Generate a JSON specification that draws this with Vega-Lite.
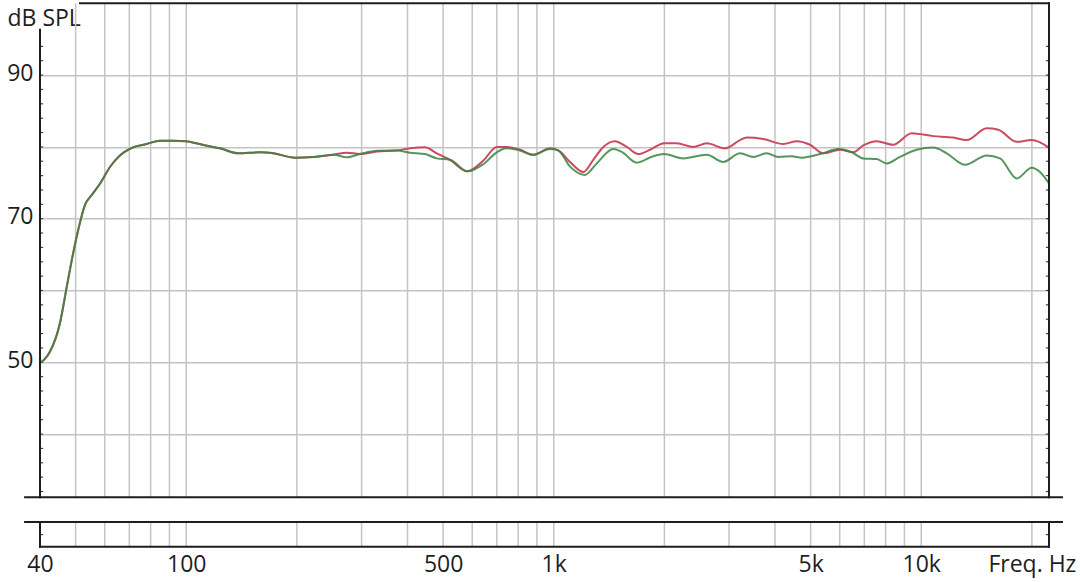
{
  "$schema": "https://vega.github.io/schema/vega-lite/v6.json",
  "width": 1009,
  "height": 543.5,
  "autosize": {"type": "none"},
  "padding": {"left": 40, "top": 3.3, "right": 31, "bottom": 35.2},
  "background": "white",
  "config": {"view": {"stroke": null}, "font": "Open Sans"},
  "datasets": {
    "one": [{"k": 1}],
    "grid": [
      {"f": 50}, {"f": 60}, {"f": 70}, {"f": 80}, {"f": 90}, {"f": 100},
      {"f": 200}, {"f": 300}, {"f": 400}, {"f": 500}, {"f": 600}, {"f": 700}, {"f": 800}, {"f": 900}, {"f": 1000},
      {"f": 2000}, {"f": 3000}, {"f": 4000}, {"f": 5000}, {"f": 6000}, {"f": 7000}, {"f": 8000}, {"f": 9000}, {"f": 10000},
      {"f": 20000}
    ],
    "ticks": [
      {"db": 26}, {"db": 32}, {"db": 34}, {"db": 36}, {"db": 38}, {"db": 40}, {"db": 42}, {"db": 44}, {"db": 46}, {"db": 48},
      {"db": 50}, {"db": 52}, {"db": 54}, {"db": 56}, {"db": 58}, {"db": 60}, {"db": 62}, {"db": 64}, {"db": 66}, {"db": 68},
      {"db": 70}, {"db": 72}, {"db": 74}, {"db": 76}, {"db": 78}, {"db": 80}, {"db": 82}, {"db": 84}, {"db": 86}, {"db": 88},
      {"db": 90}, {"db": 92}, {"db": 94}
    ],
    "red": [
      {"f": 40, "db": 49.9}, {"f": 41.3, "db": 50.5}, {"f": 42.6, "db": 51.5}, {"f": 45.3, "db": 55.4}, {"f": 47.3, "db": 60.5},
      {"f": 48.8, "db": 64.2}, {"f": 50.8, "db": 68.4}, {"f": 53.0, "db": 71.9}, {"f": 55.3, "db": 73.3}, {"f": 58.3, "db": 74.9},
      {"f": 62.0, "db": 77.2}, {"f": 66.0, "db": 78.8}, {"f": 71.8, "db": 79.95}, {"f": 78.0, "db": 80.4}, {"f": 84.8, "db": 80.86},
      {"f": 92.2, "db": 80.86}, {"f": 99.8, "db": 80.78}, {"f": 111.3, "db": 80.27}, {"f": 123.5, "db": 79.8}, {"f": 138.6, "db": 79.1},
      {"f": 158.8, "db": 79.25}, {"f": 172.5, "db": 79.1}, {"f": 197.7, "db": 78.5}, {"f": 221.7, "db": 78.6}, {"f": 251.3, "db": 78.9},
      {"f": 273.3, "db": 79.2}, {"f": 297.0, "db": 79.0}, {"f": 329.9, "db": 79.35}, {"f": 373.8, "db": 79.5}, {"f": 406.3, "db": 79.8},
      {"f": 446.5, "db": 79.95}, {"f": 480.4, "db": 79.1}, {"f": 522.0, "db": 78.2}, {"f": 582, "db": 76.6}, {"f": 643.3, "db": 78.1},
      {"f": 699.6, "db": 80.0}, {"f": 744.7, "db": 80.0}, {"f": 809.6, "db": 79.6}, {"f": 879.6, "db": 78.9}, {"f": 976.8, "db": 79.8},
      {"f": 1029, "db": 79.5}, {"f": 1107.6, "db": 77.9}, {"f": 1203.6, "db": 76.5}, {"f": 1281, "db": 78.2}, {"f": 1364, "db": 80.0},
      {"f": 1468, "db": 80.8}, {"f": 1580, "db": 80.0}, {"f": 1698, "db": 79.0}, {"f": 1828, "db": 79.6}, {"f": 1996, "db": 80.5},
      {"f": 2161, "db": 80.5}, {"f": 2398, "db": 80.0}, {"f": 2607, "db": 80.5}, {"f": 2924, "db": 79.8}, {"f": 3213, "db": 80.95},
      {"f": 3350, "db": 81.3}, {"f": 3718, "db": 81.1}, {"f": 4213, "db": 80.4}, {"f": 4584, "db": 80.8}, {"f": 4981, "db": 80.3},
      {"f": 5413, "db": 79.1}, {"f": 6012, "db": 79.6}, {"f": 6534, "db": 79.25}, {"f": 6956, "db": 80.2}, {"f": 7565, "db": 80.8},
      {"f": 8391, "db": 80.3}, {"f": 9419, "db": 81.9}, {"f": 10785, "db": 81.5}, {"f": 12225, "db": 81.3}, {"f": 13292, "db": 80.95},
      {"f": 15068, "db": 82.6}, {"f": 16209, "db": 82.4}, {"f": 18190, "db": 80.7}, {"f": 19977, "db": 80.95}, {"f": 22265, "db": 79.9}
    ],
    "green": [
      {"f": 40, "db": 49.9}, {"f": 41.3, "db": 50.5}, {"f": 42.6, "db": 51.5}, {"f": 45.3, "db": 55.4}, {"f": 47.3, "db": 60.5},
      {"f": 48.8, "db": 64.2}, {"f": 50.8, "db": 68.4}, {"f": 53.0, "db": 71.9}, {"f": 55.3, "db": 73.3}, {"f": 58.3, "db": 74.9},
      {"f": 62.0, "db": 77.2}, {"f": 66.0, "db": 78.8}, {"f": 71.8, "db": 79.95}, {"f": 78.0, "db": 80.4}, {"f": 84.8, "db": 80.86},
      {"f": 92.2, "db": 80.86}, {"f": 99.8, "db": 80.78}, {"f": 111.3, "db": 80.27}, {"f": 123.5, "db": 79.8}, {"f": 138.6, "db": 79.1},
      {"f": 158.8, "db": 79.25}, {"f": 172.5, "db": 79.1}, {"f": 197.7, "db": 78.5}, {"f": 221.7, "db": 78.6}, {"f": 251.3, "db": 78.9},
      {"f": 273.3, "db": 78.55}, {"f": 297.0, "db": 79.0}, {"f": 329.9, "db": 79.45}, {"f": 373.8, "db": 79.5}, {"f": 406.3, "db": 79.2},
      {"f": 446.5, "db": 79.0}, {"f": 480.4, "db": 78.4}, {"f": 522.0, "db": 78.2}, {"f": 582, "db": 76.6}, {"f": 643.3, "db": 77.6},
      {"f": 699.6, "db": 79.25}, {"f": 744.7, "db": 79.8}, {"f": 809.6, "db": 79.5}, {"f": 879.6, "db": 78.9}, {"f": 976.8, "db": 79.7},
      {"f": 1029, "db": 79.5}, {"f": 1107.6, "db": 77.25}, {"f": 1216, "db": 76.1}, {"f": 1309, "db": 77.7}, {"f": 1452, "db": 79.7},
      {"f": 1531, "db": 79.3}, {"f": 1682, "db": 77.8}, {"f": 1866, "db": 78.7}, {"f": 1996, "db": 79.0}, {"f": 2252, "db": 78.4},
      {"f": 2607, "db": 78.9}, {"f": 2893, "db": 77.9}, {"f": 3213, "db": 79.1}, {"f": 3492, "db": 78.6}, {"f": 3797, "db": 79.1},
      {"f": 4083, "db": 78.6}, {"f": 4440, "db": 78.7}, {"f": 4728, "db": 78.5}, {"f": 5303, "db": 79.0}, {"f": 5948, "db": 79.7},
      {"f": 6469, "db": 79.25}, {"f": 6956, "db": 78.4}, {"f": 7565, "db": 78.3}, {"f": 8055, "db": 77.7}, {"f": 8753, "db": 78.6},
      {"f": 9720, "db": 79.6}, {"f": 10785, "db": 79.9}, {"f": 11727, "db": 79.1}, {"f": 13155, "db": 77.5}, {"f": 15068, "db": 78.8},
      {"f": 16379, "db": 78.4}, {"f": 18190, "db": 75.6}, {"f": 19977, "db": 77.1}, {"f": 21045, "db": 76.5}, {"f": 22265, "db": 74.9}
    ]
  },
  "layer": [
    {
      "data": {"name": "grid"},
      "mark": {"type": "rule", "color": "#c4c4c4", "strokeWidth": 1.5},
      "encoding": {
        "x": {"field": "f", "type": "quantitative", "scale": {"type": "log", "domain": [40, 22265], "nice": false},
          "axis": {"values": [40, 100, 500, 1000, 5000, 10000, 20000],
            "labelExpr": "datum.value == 20000 ? 'Freq. Hz' : (datum.value >= 1000 ? (datum.value / 1000) + 'k' : '' + datum.value)",
            "grid": false, "ticks": false, "domain": false, "labelFontSize": 23, "labelPadding": 6.5, "labelColor": "#1e1e1e",
            "labelFlush": false, "labelOverlap": false, "labelBound": false, "title": null}},
        "y": {"datum": 31.2, "type": "quantitative", "scale": {"domain": [24.3, 100], "nice": false, "zero": false},
          "axis": {"values": [40, 50, 60, 70, 80, 90], "labelExpr": "datum.value % 20 == 10 ? '' + datum.value : ''",
            "grid": true, "gridColor": "#c4c4c4", "gridWidth": 1.5, "ticks": false, "domain": false,
            "labelFontSize": 23, "labelPadding": 7, "labelOffset": -2, "labelColor": "#1e1e1e",
            "title": "dB SPL", "titleAngle": 0, "titleAlign": "left", "titleBaseline": "alphabetic", "titleX": -33, "titleY": 21.7,
            "titleFontSize": 23, "titleFontWeight": "normal", "titleColor": "#1e1e1e"}},
        "y2": {"datum": 100}
      }
    },
    {
      "data": {"name": "grid"},
      "mark": {"type": "rule", "color": "#c4c4c4", "strokeWidth": 1.5},
      "encoding": {
        "x": {"field": "f", "type": "quantitative"},
        "y": {"datum": 24.3, "type": "quantitative"},
        "y2": {"datum": 27.76}
      }
    },
    {
      "data": {"name": "ticks"},
      "mark": {"type": "rule", "color": "#444444", "strokeWidth": 1.2},
      "encoding": {
        "y": {"field": "db", "type": "quantitative"},
        "x": {"datum": 40, "type": "quantitative"},
        "x2": {"datum": 40.8}
      }
    },
    {
      "data": {"name": "ticks"},
      "mark": {"type": "rule", "color": "#444444", "strokeWidth": 1.2},
      "encoding": {
        "y": {"field": "db", "type": "quantitative"},
        "x": {"datum": 21830, "type": "quantitative"},
        "x2": {"datum": 22265}
      }
    },
    {
      "data": {"name": "red"},
      "mark": {"type": "line", "color": "#cc4a60", "strokeWidth": 2, "interpolate": "monotone"},
      "encoding": {
        "x": {"field": "f", "type": "quantitative"},
        "y": {"field": "db", "type": "quantitative"}
      }
    },
    {
      "data": {"name": "green"},
      "mark": {"type": "line", "color": "#3a8443", "strokeWidth": 2, "strokeOpacity": 0.85, "interpolate": "monotone"},
      "encoding": {
        "x": {"field": "f", "type": "quantitative"},
        "y": {"field": "db", "type": "quantitative"}
      }
    },
    {
      "data": {"name": "one"},
      "mark": {"type": "rule", "color": "#1e1e1e", "strokeWidth": 2, "strokeCap": "square"},
      "encoding": {"x": {"datum": 40, "type": "quantitative"}, "y": {"datum": 31.2, "type": "quantitative"}, "y2": {"datum": 96.3}}
    },
    {
      "data": {"name": "one"},
      "mark": {"type": "rule", "color": "#1e1e1e", "strokeWidth": 2, "strokeCap": "square"},
      "encoding": {"x": {"datum": 40, "type": "quantitative"}, "y": {"datum": 24.3, "type": "quantitative"}, "y2": {"datum": 27.76}}
    },
    {
      "data": {"name": "one"},
      "mark": {"type": "rule", "color": "#1e1e1e", "strokeWidth": 2, "strokeCap": "square"},
      "encoding": {"x": {"datum": 22265, "type": "quantitative"}, "y": {"datum": 31.2, "type": "quantitative"}, "y2": {"datum": 100}}
    },
    {
      "data": {"name": "one"},
      "mark": {"type": "rule", "color": "#1e1e1e", "strokeWidth": 2, "strokeCap": "square"},
      "encoding": {"x": {"datum": 22265, "type": "quantitative"}, "y": {"datum": 24.3, "type": "quantitative"}, "y2": {"datum": 27.76}}
    },
    {
      "data": {"name": "one"},
      "mark": {"type": "rule", "color": "#1e1e1e", "strokeWidth": 2, "strokeCap": "square"},
      "encoding": {"y": {"datum": 100, "type": "quantitative"}, "x": {"datum": 51.4, "type": "quantitative"}, "x2": {"datum": 22265}}
    },
    {
      "data": {"name": "one"},
      "mark": {"type": "rule", "color": "#1e1e1e", "strokeWidth": 2, "strokeCap": "square"},
      "encoding": {"y": {"datum": 24.3, "type": "quantitative"}, "x": {"datum": 40, "type": "quantitative"}, "x2": {"datum": 22265}}
    },
    {
      "data": {"name": "one"},
      "mark": {"type": "rule", "color": "#1e1e1e", "strokeWidth": 2},
      "encoding": {"y": {"datum": 31.2, "type": "quantitative"}, "x": {"datum": 36.2, "type": "quantitative"}, "x2": {"datum": 24305}}
    },
    {
      "data": {"name": "one"},
      "mark": {"type": "rule", "color": "#1e1e1e", "strokeWidth": 2},
      "encoding": {"y": {"datum": 27.76, "type": "quantitative"}, "x": {"datum": 36.2, "type": "quantitative"}, "x2": {"datum": 24305}}
    }
  ]
}
